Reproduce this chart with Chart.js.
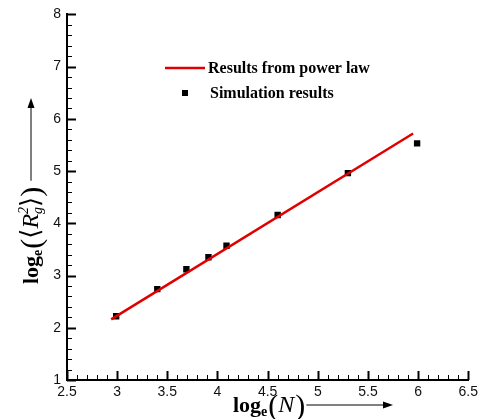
<!DOCTYPE html>
<html>
<head>
<meta charset="utf-8">
<script src="https://cdn.jsdelivr.net/npm/chart.js@4.4.1/dist/chart.umd.min.js"></script>
<style>
  html, body { margin: 0; padding: 0; background: #fff; }
  #wrap { width: 482px; height: 419px; }
</style>
</head>
<body>
<div id="wrap"><canvas id="rgChart" width="482" height="419"></canvas></div>
<script>
// --- data ---
const simX = [2.99, 3.4, 3.69, 3.91, 4.09, 4.6, 5.3, 5.99];
const simY = [2.22, 2.74, 3.12, 3.35, 3.57, 4.16, 4.96, 5.53];
const fitX = [2.94, 5.95];
const fitY = [2.16, 5.72];
const xTicks = [2.5, 3, 3.5, 4, 4.5, 5, 5.5, 6, 6.5];
const yTicks = [1, 2, 3, 4, 5, 6, 7, 8];
const seriesNames = ['Results from power law', 'Simulation results'];

const RED = '#e00000';
const SERIF = '"Liberation Serif", "DejaVu Serif", serif';

// minor/major tick marks pointing into the plot
const tickMarks = {
  id: 'tickMarks',
  afterDraw(chart) {
    const { ctx, scales: { x, y }, chartArea: a } = chart;
    ctx.save();
    ctx.strokeStyle = '#000';
    // x axis
    for (let v = xTicks[0]; v <= xTicks[xTicks.length - 1] + 1e-6; v += 0.1) {
      const major = Math.abs(v * 2 - Math.round(v * 2)) < 1e-6;
      const px = Math.round(x.getPixelForValue(v)) + 0.5;
      ctx.lineWidth = major ? 2 : 1;
      ctx.beginPath();
      ctx.moveTo(px, a.bottom);
      ctx.lineTo(px, a.bottom - (major ? 9 : 5));
      ctx.stroke();
    }
    // y axis
    for (let v = yTicks[0]; v <= yTicks[yTicks.length - 1] + 1e-6; v += 0.2) {
      const major = Math.abs(v - Math.round(v)) < 1e-6;
      const py = Math.round(y.getPixelForValue(v)) + 0.5;
      ctx.lineWidth = major ? 2 : 1;
      ctx.beginPath();
      ctx.moveTo(a.left, py);
      ctx.lineTo(a.left + (major ? 9 : 5), py);
      ctx.stroke();
    }
    ctx.restore();
  }
};

// draw runs of text with own fonts/offsets along a baseline
function drawRuns(ctx, runs, x0, y0) {
  let cx = x0;
  runs.forEach(r => {
    ctx.font = r.font;
    ctx.fillText(r.text, cx, y0 + (r.dy || 0));
    if (!r.noAdvance) cx += ctx.measureText(r.text).width + (r.gap || 0);
  });
  return cx;
}

function arrow(ctx, x1, y1, x2, y2) {
  const ang = Math.atan2(y2 - y1, x2 - x1);
  ctx.lineWidth = 1;
  ctx.beginPath();
  ctx.moveTo(x1, y1);
  ctx.lineTo(x2 - 9 * Math.cos(ang), y2 - 9 * Math.sin(ang));
  ctx.stroke();
  ctx.beginPath();
  ctx.moveTo(x2, y2);
  ctx.lineTo(x2 - 10 * Math.cos(ang) + 3.5 * Math.sin(ang), y2 - 10 * Math.sin(ang) - 3.5 * Math.cos(ang));
  ctx.lineTo(x2 - 10 * Math.cos(ang) - 3.5 * Math.sin(ang), y2 - 10 * Math.sin(ang) + 3.5 * Math.cos(ang));
  ctx.closePath();
  ctx.fill();
}

const axisTitles = {
  id: 'axisTitles',
  afterDraw(chart) {
    const ctx = chart.ctx;
    ctx.save();
    ctx.fillStyle = '#000';
    ctx.strokeStyle = '#000';
    ctx.textBaseline = 'alphabetic';
    ctx.textAlign = 'left';

    // x title: log_e(N) -->
    let end = drawRuns(ctx, [
      { text: 'log', font: 'bold 22px ' + SERIF },
      { text: 'e', font: 'bold 14px ' + SERIF, dy: 4, gap: 1 },
      { text: '(', font: '30px ' + SERIF, dy: 3 },
      { text: 'N', font: 'italic 24px ' + SERIF, gap: 1 },
      { text: ')', font: '30px ' + SERIF, dy: 3 }
    ], 233, 412);
    arrow(ctx, end + 1, 405, 393, 405);

    // y title, rotated: log_e(<R_g^2>) -->
    ctx.translate(38, 284);
    ctx.rotate(-Math.PI / 2);
    end = drawRuns(ctx, [
      { text: 'log', font: 'bold 22px ' + SERIF },
      { text: 'e', font: 'bold 14px ' + SERIF, dy: 4, gap: 1 },
      { text: '(', font: '30px ' + SERIF, dy: 3 },
      { text: '\u27E8', font: '26px ' + SERIF, dy: 1 },
      { text: 'R', font: 'italic 24px ' + SERIF },
      { text: '2', font: 'italic 14px ' + SERIF, dy: -10, noAdvance: true },
      { text: 'g', font: 'italic 14px ' + SERIF, dy: 4 },
      { text: '\u27E9', font: '26px ' + SERIF, dy: 1 },
      { text: ')', font: '30px ' + SERIF, dy: 3 }
    ], 0, 0);
    arrow(ctx, end + 6, -7, 186, -7);
    ctx.restore();
  }
};

const legendBox = {
  id: 'legendBox',
  afterDraw(chart) {
    const ctx = chart.ctx;
    ctx.save();
    ctx.strokeStyle = RED;
    ctx.lineWidth = 2.5;
    ctx.beginPath();
    ctx.moveTo(165, 68);
    ctx.lineTo(205, 68);
    ctx.stroke();
    ctx.fillStyle = '#000';
    ctx.fillRect(182, 90, 6, 6);
    ctx.font = 'bold 16px ' + SERIF;
    ctx.textBaseline = 'middle';
    ctx.fillText(chart.data.datasets[0].label, 208, 69);
    ctx.fillText(chart.data.datasets[1].label, 210, 94);
    ctx.restore();
  }
};

const tickFont = { family: '"Liberation Sans", Arial, sans-serif', size: 14 };

new Chart(document.getElementById('rgChart'), {
  type: 'scatter',
  data: {
    datasets: [
      {
        label: seriesNames[0],
        data: fitX.map((v, i) => ({ x: v, y: fitY[i] })),
        showLine: true,
        borderColor: RED,
        borderWidth: 2.5,
        pointRadius: 0,
        order: 1
      },
      {
        label: seriesNames[1],
        data: simX.map((v, i) => ({ x: v, y: simY[i] })),
        pointStyle: 'rect',
        pointRadius: 4.5,
        pointBorderWidth: 0,
        backgroundColor: '#000',
        borderColor: '#000',
        order: 2
      }
    ]
  },
  options: {
    responsive: false,
    animation: false,
    layout: { padding: { top: 10, right: 10, left: 0, bottom: 0 } },
    plugins: {
      legend: { display: false },
      tooltip: { enabled: false }
    },
    scales: {
      x: {
        type: 'linear',
        min: xTicks[0],
        max: xTicks[xTicks.length - 1],
        afterBuildTicks: s => { s.ticks = xTicks.map(v => ({ value: v })); },
        afterFit: s => { s.height = 39; },
        grid: { display: false, drawTicks: false },
        border: { display: true, color: '#000', width: 2 },
        ticks: { color: '#111', font: tickFont, padding: 4, maxRotation: 0, callback: v => String(v) }
      },
      y: {
        type: 'linear',
        min: yTicks[0],
        max: yTicks[yTicks.length - 1],
        afterBuildTicks: s => { s.ticks = yTicks.map(v => ({ value: v })); },
        afterFit: s => { s.width = 67; },
        grid: { display: false, drawTicks: false },
        border: { display: true, color: '#000', width: 2 },
        ticks: { color: '#111', font: tickFont, padding: 6, callback: v => String(v) }
      }
    }
  },
  plugins: [tickMarks, axisTitles, legendBox]
});
</script>
</body>
</html>
